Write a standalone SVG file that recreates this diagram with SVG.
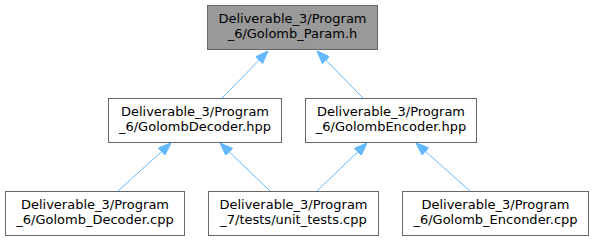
<svg xmlns="http://www.w3.org/2000/svg" width="593" height="241" viewBox="0 0 593 241">
  <style>
    .box { fill: #ffffff; stroke: #666666; stroke-width: 1; }
    .box.root { fill: #999999; }
    .lbl { font-family: "DejaVu Sans", sans-serif; font-size: 13px; fill: #000000; text-anchor: middle; }
    .edge { fill: none; stroke: #63b8ff; stroke-width: 1; marker-end: url(#arrow); }
  </style>
  <defs>
    <marker id="arrow" viewBox="0 0 13 10" refX="13" refY="5" markerWidth="13" markerHeight="10" markerUnits="userSpaceOnUse" orient="auto">
      <path d="M0,0 L13,5 L0,10 z" fill="#63b8ff" stroke="#63b8ff" stroke-width="1"/>
    </marker>
  </defs>

  <rect width="593" height="241" fill="#ffffff"/>

  <!-- include dependency edges -->
  <g id="edges">
    <path class="edge" d="M222,98 L268,51"/>
    <path class="edge" d="M363,98 L317,51"/>
    <path class="edge" d="M118,191 L171,143"/>
    <path class="edge" d="M270,191 L220,143"/>
    <path class="edge" d="M317,191 L367,143"/>
    <path class="edge" d="M470,191 L416,143"/>
  </g>

  <g id="node_golomb_param">
    <rect class="box root" x="207.5" y="5.5" width="170" height="44"/>
    <text class="lbl" x="292.5" y="22.5">Deliverable_3/Program</text>
    <text class="lbl" x="292.5" y="37.5">_6/Golomb_Param.h</text>
  </g>

  <g id="node_golomb_decoder_hpp">
    <rect class="box" x="108.5" y="98.5" width="173" height="44"/>
    <text class="lbl" x="195" y="115.5">Deliverable_3/Program</text>
    <text class="lbl" x="195" y="130.5">_6/GolombDecoder.hpp</text>
  </g>

  <g id="node_golomb_encoder_hpp">
    <rect class="box" x="305.5" y="98.5" width="171" height="44"/>
    <text class="lbl" x="391" y="115.5">Deliverable_3/Program</text>
    <text class="lbl" x="391" y="130.5">_6/GolombEncoder.hpp</text>
  </g>

  <g id="node_golomb_decoder_cpp">
    <rect class="box" x="5.5" y="191.5" width="179" height="44"/>
    <text class="lbl" x="95" y="208.5">Deliverable_3/Program</text>
    <text class="lbl" x="95" y="223.5">_6/Golomb_Decoder.cpp</text>
  </g>

  <g id="node_unit_tests">
    <rect class="box" x="208.5" y="191.5" width="170" height="44"/>
    <text class="lbl" x="293.5" y="208.5">Deliverable_3/Program</text>
    <text class="lbl" x="293.5" y="223.5">_7/tests/unit_tests.cpp</text>
  </g>

  <g id="node_golomb_encoder_cpp">
    <rect class="box" x="402.5" y="191.5" width="186" height="44"/>
    <text class="lbl" x="495.5" y="208.5">Deliverable_3/Program</text>
    <text class="lbl" x="495.5" y="223.5">_6/Golomb_Enconder.cpp</text>
  </g>
</svg>
